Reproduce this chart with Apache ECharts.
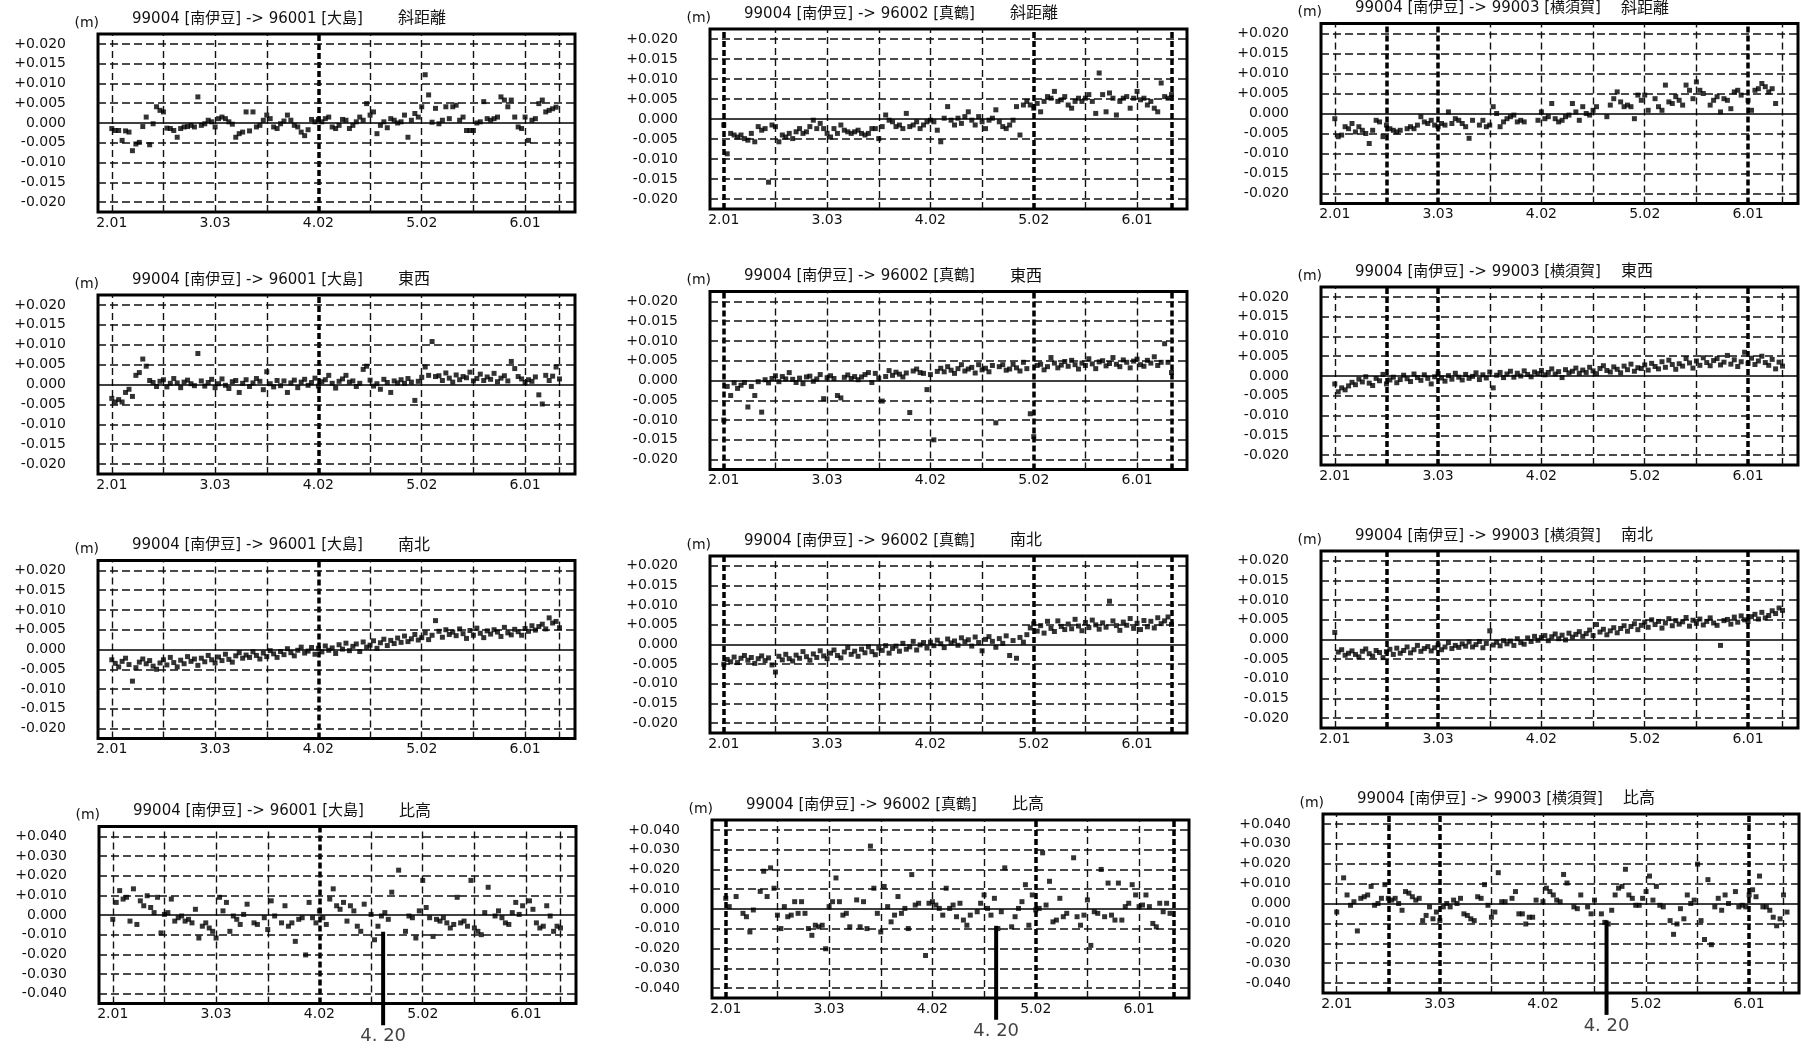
<!DOCTYPE html>
<html><head><meta charset="utf-8">
<script src="https://cdn.jsdelivr.net/npm/echarts@6.0.0/dist/echarts.min.js"></script>
<style>html,body{margin:0;padding:0;background:#fff}#c{width:1801px;height:1049px}</style>
</head><body><div id="c"></div>
<script>
// ---- axis / tick data ----
const xTickDays = [0, 30, 60, 90, 120];
const xTickLabels = ['2.01', '3.03', '4.02', '5.02', '6.01'];
const xGridDays = [0, 15, 30, 45, 60, 75, 90, 105, 120, 130];
const yTicksSmall = [-20, -15, -10, -5, 0, 5, 10, 15, 20];
const yTicksLarge = [-40, -30, -20, -10, 0, 10, 20, 30, 40];
const stations = ['99004 [南伊豆] -> 96001 [大島]', '99004 [南伊豆] -> 96002 [真鶴]', '99004 [南伊豆] -> 99003 [横須賀]'];
const components = ['斜距離', '東西', '南北', '比高'];
const thickDays = [[60], [0, 90, 130], [15, 30, 120]];
const eventDay = 78.5, eventFrom = -8.5, eventTo = -56, eventLabel = '4. 20';

// ---- series values in mm, one value per day from 2.01 ----
const dist96001 = [-1.4,-1.9,-1.9,-4.4,-2.0,-2.3,-7.0,-5.3,-4.9,-0.9, 1.5,-5.5,-0.2,4.1,3.2,2.8,-1.3,-1.4,-1.9,-3.6,
 -1.4,-1.0,-0.9,-0.6,-1.0,6.6,-0.6,-0.2,0.7,0.3, -1.0,1.1,1.5,1.1,0.3,-0.3,-3.6,-2.7,-2.3,2.8,
 -2.0,2.8,-1.0,-0.6,0.7,2.0,1.1,-1.0,-1.4,-0.2, 0.5,2.0,0.7,-0.6,-1.0,-2.3,-3.2,-1.7,0.9,0.3,
 0.9,0.3,1.1,1.5,-1.0,-1.4,-0.6,0.9,0.7,-1.4, -0.6,0.3,1.5,0.7,4.9,2.0,2.8,-2.7,-0.6,0.3,
 -1.2,1.1,0.7,0.0,0.3,2.0,-3.6,0.7,2.4,1.5, 4.1,12.2,7.1,0.2,3.7,-0.2,0.7,4.1,1.1,4.1,
 4.5,0.7,1.5,-1.9,-1.9,-1.9,0.0,0.3,5.4,1.1, 0.7,1.1,1.5,6.6,5.8,4.1,5.8,1.5,-1.0,-1.4,
 1.5,-4.4,0.7,1.1,4.9,5.8,2.8,3.2,3.6,4.0];
const dist96002 = [-1.5,-8.7,-3.6,-4.0,-4.5,-4.0,-4.9,-5.3,-3.6,-5.7, -1.9,-2.8,-2.4,-15.8,-1.5,-1.9,-5.7,-4.0,-4.5,-3.6,
 -4.9,-3.2,-2.4,-3.6,-3.2,-1.9,-0.3,-2.4,-1.1,-2.4, -3.6,-4.5,-2.4,-3.6,-1.5,-2.8,-3.2,-3.6,-3.2,-2.8,
 -3.6,-4.0,-3.6,-2.4,-2.4,-4.9,-1.9,1.0,-0.3,-0.7, -1.9,-1.5,-2.4,1.4,-1.9,-1.5,-0.7,-2.4,-1.5,-0.7,
 -0.3,-0.7,-2.8,-5.7,0.2,3.1,-0.3,-1.5,0.2,-1.1, 0.6,1.8,-0.3,-1.5,0.6,-0.7,-2.4,-0.3,0.2,2.3,
 -0.7,-1.9,-2.4,-1.5,-0.3,3.1,-4.0,3.5,4.4,3.5, 2.7,3.9,1.8,4.4,5.6,5.2,6.9,4.4,4.8,5.6,
 3.5,2.7,4.4,5.2,4.4,5.2,6.1,4.4,1.4,11.5, 6.1,1.8,6.5,5.2,1.0,4.4,5.2,5.6,2.7,5.2,
 6.9,4.8,5.2,3.5,4.4,2.7,1.8,9.0,5.6,5.2, 6.1];
const dist99003 = [-1.3,-5.8,-5.4,-3.3,-3.8,-2.5,-4.6,-3.3,-4.2,-5.0,-7.5,-4.2,-1.7,-2.1,-5.8,-2.9,-3.8,-4.2,-4.6,-4.2,
 null,-3.8,-3.3,-3.8,-2.9,-0.8,-2.1,-2.5,-1.7,-2.9,-3.3,-2.5,-2.9,0.4,-2.5,-1.3,-1.7,-2.5,-3.3,-6.2,-1.7,
 null,-2.9,-1.7,-3.3,-2.9,1.7,0,-3.3,-2.1,-1.3,-0.8,-0.4,-2.1,-1.7,-2.1,
 null,null,null,
 -1.7,0.4,-1.3,-0.8,2.5,-1.3,-2.1,-1.7,-0.8,-0.4,2.5,0.4,-1.7,1.7,0,-0.4,0.8,1.7,
 null,null,
 -0.8,2.1,3.7,5.4,2.9,1.7,2.1,1.7,-1.3,4.6,3.3,4.6,0.8,
 null,
 3.7,1.7,0.8,7.1,2.9,2.5,4.2,3.3,2.1,7.1,5.8,3.7,7.9,5.8,5.0,
 null,
 2.1,3.3,4.2,0.4,3.7,3.3,1.2,5.4,5.8,4.6,
 null,
 3.3,0.8,5.8,6.2,7.5,6.7,5.4,6.2,2.5];
const ew96001 = [-3.5,-4.4,-3.8,-4.4,-2.0,-1.2,-3.0,2.3,3.0,6.4, 4.6,1.0,0.5,-0.5,0.8,1.2,-0.6,0.3,1.5,0.4,
 -0.8,0.6,1.1,0.2,-0.3,7.8,0.9,-0.4,0.5,1.3, -0.8,0.2,1.4,-0.2,-1.0,0.7,1.0,-2.0,0.3,1.2,
 -0.5,0.4,1.5,0.8,-1.3,3.2,0.2,-0.6,1.0,-0.3, 0.9,-2.0,0.4,1.1,-0.8,0.6,1.3,-0.2,0.5,1.6,
 -0.4,0.7,1.2,2.3,0.3,-0.9,0.8,1.4,2.3,0.6, 0.9,-0.5,0.3,3.8,4.6,1.1,-0.4,0.2,-1.2,1.3,
 0.5,-2.0,0.9,0.4,1.2,0.3,1.5,0.6,-4.0,0.8, 1.8,4.4,2.3,10.8,2.0,2.2,1.0,2.9,1.6,0.6,
 2.4,1.2,2.0,1.7,3.1,0.9,1.5,2.6,1.0,1.9, 1.3,2.8,0.7,1.6,2.2,0.9,5.8,4.0,2.0,1.4,
 0.5,1.2,0.8,1.9,-2.6,-4.9,2.3,1.0,2.1,4.4,1.4];
const ew96002 = [-10.0,-1.5,-3.8,-0.6,-2.0,-1.2,-0.5,-6.7,-1.5,-3.8, -0.3,-8.0,0.2,-0.6,0.5,1.2,-0.3,1.0,0.4,2.0,
 0.3,-0.5,0.6,-0.8,0.9,1.1,-0.2,0.4,1.5,-4.6, 0.7,1.2,0.5,-3.8,-4.4,0.8,1.4,0.5,1.0,0.2,
 0.9,1.5,2.0,-0.5,1.8,0.6,-5.2,1.0,2.5,1.3, 2.1,1.6,0.9,1.9,-8.1,2.4,2.9,2.0,1.8,-2.3,
 1.5,-15.0,2.3,3.1,2.2,3.5,2.6,1.8,3.0,4.0, 2.4,2.9,3.3,1.9,4.0,2.7,3.1,2.2,3.8,-10.7,
 3.5,4.0,2.6,2.9,4.1,3.2,2.4,4.6,3.0,-8.4, -14.2,3.8,4.1,2.7,3.5,5.8,4.4,3.2,3.9,4.8,
 3.6,5.1,4.0,2.9,4.4,3.8,5.5,4.2,3.0,4.7, 5.0,3.7,4.3,5.8,4.1,3.5,5.2,4.6,3.2,4.9,
 5.4,4.0,3.6,5.1,4.4,6.0,3.8,4.6,9.3,4.6,2.0];
const ew99003 = [-2.0,-4.0,-3.0,-3.5,-2.5,-1.6,-2.2,-0.8,-1.5,-0.2, -1.8,-2.4,-0.6,-1.2,0.4,-2.0,-1.0,-0.3,-1.7,-0.9,
 0.2,-0.7,-1.4,0.5,-0.4,-1.1,0.3,-0.6,-2.0,-0.2, 0.6,-0.5,-1.3,0.1,-0.8,0.7,-0.3,-1.0,0.4,-0.6,
 -0.1,0.8,-0.9,0.3,-0.5,1.0,-3.0,0.2,0.9,-0.4, 0.5,1.2,-0.3,0.7,0.0,1.3,0.4,-0.2,1.0,0.6,
 1.4,0.3,0.9,1.8,0.5,1.1,-0.4,1.6,0.8,1.2, 2.0,0.7,1.5,0.9,2.2,1.3,0.6,1.9,2.6,1.4,
 1.0,2.3,1.7,0.8,2.5,1.6,3.0,1.2,2.1,1.9, 2.8,1.5,3.2,2.4,1.8,3.6,2.2,4.0,2.9,1.7,
 3.1,2.5,4.4,3.3,2.0,3.8,2.7,4.6,3.4,2.6, 3.9,4.4,2.8,3.5,5.2,3.0,4.1,2.4,3.6,6.0,
 3.2,4.5,2.9,3.8,5.0,3.4,2.7,4.2,1.8,3.5,2.5];
const ns96001 = [-2.6,-3.5,-4.4,-3.0,-2.2,-3.8,-8.0,-4.6,-3.2,-2.4, -3.6,-2.8,-4.2,-5.0,-3.4,-2.6,-3.9,-2.0,-3.3,-4.4,
 -2.7,-3.6,-1.8,-3.0,-2.4,-4.0,-2.2,-3.1,-1.5,-2.6, -3.4,-1.9,-2.8,-1.2,-2.5,-3.2,-1.6,-0.8,-2.2,-1.4,
 -2.0,-0.6,-1.5,-2.4,-0.9,-1.8,-0.3,-1.1,-2.0,-0.5, -1.3,0.2,-0.8,-1.6,-0.2,0.6,-0.9,-0.4,0.5,-1.2,
 0.3,-0.6,0.9,-0.2,0.4,-1.0,1.2,0.1,1.6,-0.3, 0.8,1.4,-0.5,1.9,0.6,1.1,2.2,0.3,1.7,2.6,
 1.0,2.3,1.5,2.9,1.8,3.4,2.0,2.7,3.8,2.4, 3.0,4.2,2.5,3.6,7.3,4.6,3.1,5.0,3.8,4.4,
 3.5,5.2,4.0,2.8,4.8,3.6,5.4,4.1,3.0,4.7, 3.9,5.0,4.4,3.3,5.6,4.2,3.7,5.1,4.5,3.6,
 5.3,4.6,6.0,4.9,5.8,6.4,5.2,8.0,6.7,7.1,5.5];
const ns96002 = [-5.0,-3.8,-4.4,-3.2,-4.6,-3.5,-2.8,-4.0,-3.3,-4.8, -3.6,-2.9,-4.1,-3.4,-5.2,-7.0,-3.0,-3.9,-2.5,-3.6,
 -4.2,-2.7,-3.5,-1.8,-3.1,-4.0,-2.4,-3.3,-1.6,-2.9, -3.6,-2.2,-1.4,-2.8,-3.4,-1.9,-0.8,-2.5,-1.7,-3.0,
 -1.2,-2.1,-0.6,-1.8,-2.6,-0.9,-1.5,-0.3,-2.2,-1.0, -0.4,-1.7,0.3,-1.2,-0.6,0.8,-1.4,-0.1,0.5,-0.9,
 0.6,-0.3,1.1,0.2,-0.8,1.4,0.4,0.9,-0.2,1.7, 0.7,1.2,-0.4,1.9,0.5,-1.6,1.3,2.0,0.8,-0.7,
 1.5,0.3,2.2,-2.8,1.0,-3.5,1.8,0.6,2.5,4.2, 5.3,3.4,4.8,2.9,5.9,4.1,3.3,6.0,4.6,3.8,
 5.2,4.0,6.4,4.7,3.5,5.6,4.3,6.2,5.0,3.9, 5.5,4.4,11.0,6.0,4.8,3.6,5.7,4.9,6.6,4.1,
 5.4,3.8,6.1,4.5,5.9,4.2,6.8,5.3,6.0,7.0,5.1];
const ns99003 = [1.8,-3.2,-2.6,-4.0,-3.5,-2.9,-3.8,-4.4,-3.0,-2.4, -3.6,-4.2,-2.8,-3.3,-4.6,-3.1,-2.5,-3.8,-2.2,-3.5,
 -2.8,-1.9,-3.4,-2.6,-1.5,-3.0,-2.3,-1.8,-2.9,-2.1, -1.4,-2.6,-1.9,-0.8,-2.3,-1.5,-2.0,-1.1,-1.7,-0.6,
 -1.9,-1.3,-0.5,-2.1,-1.0,2.2,-1.4,-0.7,-1.6,-0.3, -1.1,-0.4,-1.5,0.2,-0.8,-1.2,0.4,-0.5,0.8,-0.2,
 0.5,1.0,-0.3,0.7,1.4,0.2,1.1,-0.1,1.6,0.6, 1.3,2.0,0.8,1.5,2.4,1.0,3.8,1.9,2.6,1.2,
 2.2,3.0,1.7,2.8,3.5,2.1,3.3,4.0,2.5,3.6, 4.4,3.1,5.0,3.8,4.6,2.9,4.2,5.3,3.5,4.8,
 3.9,4.5,5.6,3.4,4.9,4.1,5.2,3.7,4.6,5.5, 4.2,3.6,-1.5,4.8,5.1,3.9,5.7,4.4,6.0,5.0,
 4.6,5.8,6.4,5.2,6.9,5.5,6.1,7.3,6.6,8.0,7.4];
const up96001 = [-2.2,6.4,12.4,8.1,9.0,-3.1,13.3,-4.8,7.2,4.7, 9.8,3.8,1.2,9.0,-9.1,0.3,1.2,8.1,-3.1,-1.4,
 -0.5,-3.1,-2.2,-4.0,2.9,-11.7,-5.7,-4.0,-6.6,-8.3, -11.7,9.0,2.1,6.4,-8.3,-0.5,-2.2,-4.8,0.3,5.5,
 null,-4.0,-4.8,null,-1.4,-7.4,7.2,-0.5,null,-4.0, 4.7,-5.7,-4.0,-13.4,-2.2,-1.4,-20.3,6.4,-1.4,-4.0,
 2.1,-1.4,-4.8,8.1,13.3,4.7,2.9,6.4,-3.1,4.7, 2.1,-5.7,-8.3,5.5,null,0.3,-12.6,-5.7,-0.5,1.2,
 -2.2,11.6,null,22.8,null,-8.3,-0.5,-1.4,-11.7,2.1, 17.6,3.8,-1.4,-10.9,-2.2,-3.1,-1.4,-4.0,-6.6,-4.8,
 9.0,-4.0,-3.1,-5.7,17.6,-6.6,-8.3,-10.0,1.2,14.1, null,-0.5,2.1,-1.4,-4.0,-4.8,1.2,6.4,0.3,4.7,
 null,7.2,2.9,-4.0,-6.6,-5.7,4.7,-0.5,-8.3,-5.7,-6.6];
const up96002 = [5.4,1.2,null,6.3,null,-2.2,-3.9,-11.6,-0.5,null, 8.9,19.1,6.3,20.8,10.5,-3.1,-9.9,1.2,-3.9,-3.1,
 3.7,-2.2,3.7,-2.2,-9.9,-13.3,-8.2,-9.0,-8.2,-20.1, 1.2,3.7,15.7,3.7,-3.1,-2.2,-9.0,null,4.6,-9.0,
 3.7,-9.9,31.8,10.5,-2.2,-11.6,11.4,1.2,-6.5,-3.1, 6.3,-2.2,0.3,-9.9,17.4,2.0,2.9,null,-23.5,2.9,
 3.7,2.0,0.3,-3.1,10.5,0.3,2.0,-3.9,2.9,-5.6, -8.2,-3.1,null,-1.4,2.9,7.1,0.3,-3.1,5.4,-9.9,
 -1.4,20.8,null,-9.0,-3.9,0.3,3.7,12.3,-8.2,7.1, -0.5,0.3,28.4,2.0,14.0,-6.5,-5.6,5.4,-3.9,-2.2,
 null,25.9,-3.9,-8.2,-3.1,4.6,-18.4,-1.4,-2.2,20.0, -3.9,13.1,-3.1,-5.6,13.1,-5.6,1.2,2.9,12.3,7.1,
 1.2,2.0,7.1,1.2,-7.3,-9.0,2.9,-1.4,2.9,-2.2];
const up99003 = [-4.3,null,12.9,4.3,-0.9,0.9,-13.8,2.6,3.4,4.3, 8.6,-0.9,0,2.6,9.5,2.6,1.7,2.6,0,-3.4,
 6.0,5.2,3.4,1.7,2.6,-8.6,-6.0,-1.7,-7.7,-4.3, -8.6,-1.7,0,-1.7,1.7,0,2.6,-5.2,-6.0,-7.7,
 -8.6,3.4,2.6,9.5,-0.9,-6.9,-4.3,15.5,0.9,0.9, null,2.6,6.0,-5.2,-5.2,-10.3,-6.9,-6.9,1.7,null,
 0.9,7.7,6.0,4.3,1.7,0.9,14.6,10.3,null,-1.7, -2.6,4.3,null,-1.7,-5.2,1.7,null,-5.2,-9.5,-10.3,
 -3.4,4.3,7.7,8.6,17.2,4.3,2.6,-0.9,-0.9,2.6, 6.0,13.8,1.7,8.6,-0.9,-1.7,null,-8.6,-15.5,-10.3,
 -2.6,-7.7,4.3,0,1.7,19.8,-8.6,-18.1,12.0,-20.7, -1.7,2.6,-3.4,4.3,0,null,6.0,-1.7,-0.9,-1.7,
 4.3,6.9,3.4,13.8,-1.7,-1.7,-3.4,-6.9,-11.2,-7.7,4.3,-4.3];

const panelData = [dist96001, dist96002, dist99003, ew96001, ew96002, ew99003, ns96001, ns96002, ns99003, up96001, up96002, up99003];

// ---- layout: frame left, top, width, height (px) ----
const layout = [
  [98, 34, 477, 178], [710, 29, 477, 180], [1321, 23.5, 477, 180],
  [98, 295, 477, 179], [710, 291.5, 477, 178], [1321, 287, 477, 178],
  [98, 560.5, 477, 178], [710, 556, 477, 177], [1321, 551, 477, 177],
  [99, 826.5, 477, 177], [712, 820, 477, 178], [1323, 814, 476, 179]
];

const FONT = '"DejaVu Sans", "Noto Sans CJK JP", sans-serif';
const fmtY = v => v === 0 ? '0.000' : (v > 0 ? '+' : '-') + (Math.abs(v) / 1000).toFixed(3);
const fmtX = v => { const k = xTickDays.indexOf(v); return k >= 0 ? xTickLabels[k] : ''; };

const grids = [], xAxes = [], yAxes = [], series = [], graphics = [];
panelData.forEach((arr, i) => {
  const row = Math.floor(i / 3), col = i % 3;
  const [l, t, w, h] = layout[i];
  const big = row === 3;
  const yTicks = big ? yTicksLarge : yTicksSmall;
  const ext = big ? 45 : 22.5;
  grids.push({ left: l, top: t, width: w, height: h, show: true, borderColor: '#000', borderWidth: 3, backgroundColor: 'transparent', outerBoundsMode: 'none' });
  xAxes.push({ type: 'value', gridIndex: i, min: -4, max: 134.5,
    axisLine: { show: false }, axisTick: { show: false }, splitLine: { show: false },
    axisLabel: { customValues: xTickDays, formatter: fmtX, margin: 4, fontFamily: FONT, fontSize: 14, color: '#111' } });
  yAxes.push({ type: 'value', gridIndex: i, min: -ext, max: ext,
    axisLine: { show: false }, axisTick: { show: false }, splitLine: { show: false },
    axisLabel: { customValues: yTicks, formatter: fmtY, margin: 32, fontFamily: FONT, fontSize: 14, color: '#111', padding: [10, 0, 0, 0] } });
  const ml = [];
  xGridDays.forEach(d => ml.push({ xAxis: d, lineStyle: thickDays[col].includes(d)
    ? { width: 3.5, type: [6, 3], color: '#000' } : { width: 1.4, type: [7, 4], color: '#111' } }));
  yTicks.forEach(v => ml.push({ yAxis: v, lineStyle: v === 0
    ? { width: 1.6, type: 'solid', color: '#000' } : { width: 1.5, type: [8, 4], color: '#111' } }));
  series.push({ type: 'scatter', xAxisIndex: i, yAxisIndex: i, symbol: 'rect', symbolSize: 5, z: 3,
    itemStyle: { color: '#000' }, silent: true,
    data: arr.map((v, d) => [d, v]).filter(q => q[1] !== null),
    markLine: { silent: true, symbol: 'none', label: { show: false }, z: 1, animation: false, data: ml } });
  if (big) {
    series.push({ type: 'line', xAxisIndex: i, yAxisIndex: i, clip: false, symbol: 'none', silent: true, z: 4,
      lineStyle: { width: 4, color: '#000' }, data: [[eventDay, eventFrom], [eventDay, eventTo]] });
    series.push({ type: 'scatter', xAxisIndex: i, yAxisIndex: i, clip: false, symbolSize: 1, silent: true,
      itemStyle: { color: 'rgba(0,0,0,0)' }, data: [[eventDay, eventTo]],
      label: { show: true, position: 'bottom', distance: 2, formatter: eventLabel, fontFamily: FONT, fontSize: 18, color: '#111' } });
  }
  graphics.push({ type: 'text', x: l + 1, y: t - 11, style: { text: '(m)', font: '14px ' + FONT, fill: '#111', align: 'right', verticalAlign: 'middle', textAlign: 'right', textVerticalAlign: 'middle' } });
  graphics.push({ type: 'text', x: l + 34, y: t - 15, style: { text: stations[col], font: '15px ' + FONT, fill: '#111', align: 'left', verticalAlign: 'middle', textAlign: 'left', textVerticalAlign: 'middle' } });
  graphics.push({ type: 'text', x: l + 300, y: t - 15, style: { text: components[row], font: '16px ' + FONT, fill: '#111', align: 'left', verticalAlign: 'middle', textAlign: 'left', textVerticalAlign: 'middle' } });
});

const chart = echarts.init(document.getElementById('c'), null, { renderer: 'canvas' });
chart.setOption({ animation: false, backgroundColor: '#fff', grid: grids, xAxis: xAxes, yAxis: yAxes, series: series, graphic: graphics });
</script></body></html>
